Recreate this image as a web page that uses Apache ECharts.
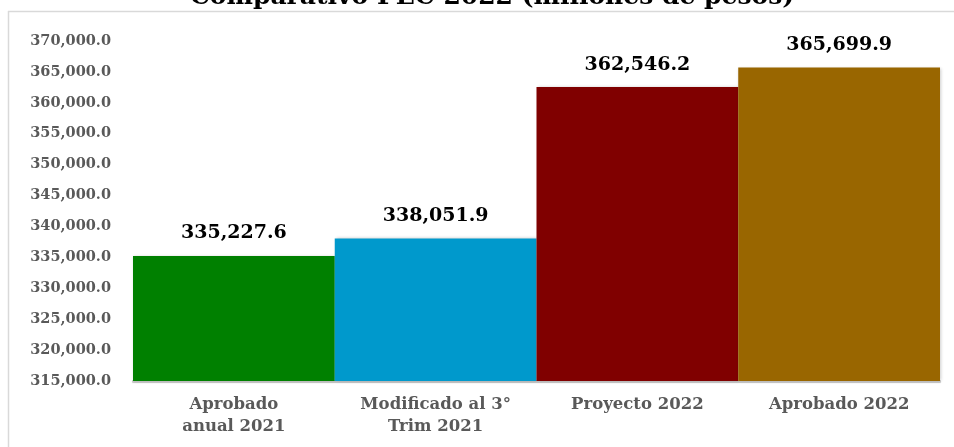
<!DOCTYPE html>
<html>
<head>
<meta charset="utf-8">
<script src="https://cdn.jsdelivr.net/npm/echarts@6/dist/echarts.min.js"></script>
<style>
html,body{margin:0;padding:0;background:#fff;}
#c{width:954px;height:447px;}
</style>
</head>
<body>
<div id="c"></div>
<script>
var titleText = 'Comparativo PEC 2022 (millones de pesos)';
var categories = ['Aprobado\nanual 2021', 'Modificado al 3°\nTrim 2021', 'Proyecto 2022', 'Aprobado 2022'];
var values = [335227.6, 338051.9, 362546.2, 365699.9];
var barColors = ['#008000', '#0099CC', '#800000', '#996600'];
var yMin = 315000, yMax = 370000, yStep = 5000;

function fmt(v, d) {
  var s = v.toFixed(d);
  var parts = s.split('.');
  parts[0] = parts[0].replace(/\B(?=(\d{3})+(?!\d))/g, ',');
  return parts.join('.');
}

var chart = echarts.init(document.getElementById('c'), null, {renderer: 'canvas'});
var font = 'DejaVu Serif';
chart.setOption({
  animation: false,
  backgroundColor: '#fff',
  graphic: [
    {type: 'text', x: 492, y: 10, silent: true, z: 10,
     style: {text: titleText, align: 'center', verticalAlign: 'bottom', fontFamily: font, fontWeight: 700, fontSize: 25, fill: '#000'}},
    {type: 'line', shape: {x1: 8.5, y1: 11, x2: 8.5, y2: 447}, style: {stroke: '#d9d9d9', lineWidth: 1.5}, silent: true, z: 10},
    {type: 'line', shape: {x1: 8, y1: 11.5, x2: 954, y2: 11.5}, style: {stroke: '#d9d9d9', lineWidth: 1.5}, silent: true, z: 10}
  ],
  grid: {left: 133, right: 14, top: 41, bottom: 66, containLabel: false},
  xAxis: {
    type: 'category',
    data: categories,
    axisTick: {show: false},
    axisLine: {lineStyle: {color: '#c8c8c8', width: 2, shadowColor: 'rgba(0,0,0,0.25)', shadowBlur: 1, shadowOffsetY: 1}},
    axisLabel: {
      interval: 0,
      margin: 13,
      fontFamily: font, fontWeight: 700, fontSize: 16.5, lineHeight: 22, color: '#595959'
    }
  },
  yAxis: {
    type: 'value',
    min: yMin, max: yMax, interval: yStep,
    splitLine: {show: false},
    axisLine: {show: false},
    axisTick: {show: false},
    axisLabel: {
      margin: 22,
      fontFamily: font, fontWeight: 700, fontSize: 14.5, color: '#595959',
      formatter: function (v) { return fmt(v, 1); }
    }
  },
  series: [{
    type: 'bar',
    barWidth: '100%',
    barCategoryGap: 0,
    data: values.map(function (v, i) {
      return {value: v, itemStyle: {color: barColors[i]}};
    }),
    itemStyle: {shadowColor: 'rgba(0,0,0,0.2)', shadowBlur: 3, shadowOffsetX: 1, shadowOffsetY: 0},
    label: {
      show: true,
      position: 'top',
      distance: 13,
      fontFamily: font, fontWeight: 700, fontSize: 19, color: '#000',
      formatter: function (p) { return fmt(p.value, 1); }
    }
  }]
});
</script>
</body>
</html>
